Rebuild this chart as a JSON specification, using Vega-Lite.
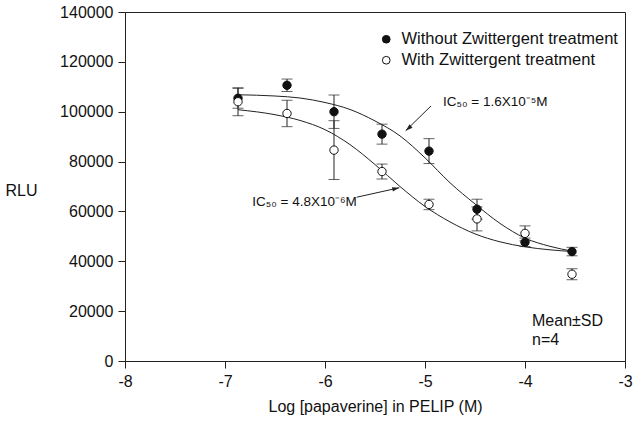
{
  "$schema": "https://vega.github.io/schema/vega-lite/v6.json",
  "width": 500,
  "height": 349,
  "autosize": {"type": "none"},
  "padding": {"left": 125, "top": 12, "right": 12, "bottom": 61},
  "background": "white",
  "config": {
    "font": "Liberation Sans",
    "view": {"stroke": "#222", "strokeWidth": 1},
    "axis": {
      "grid": false,
      "domainColor": "#222",
      "tickColor": "#222",
      "tickSize": 7,
      "labelFontSize": 16,
      "labelColor": "#111",
      "titleFontSize": 16,
      "titleFontWeight": "normal",
      "titleColor": "#111",
      "labelFlush": false
    }
  },
  "datasets": {
    "points": [
      {"series": "Without Zwittergent treatment", "logc": -6.87, "rlu": 105400, "lo": 101400, "hi": 109400},
      {"series": "Without Zwittergent treatment", "logc": -6.38, "rlu": 110600, "lo": 108100, "hi": 113100},
      {"series": "Without Zwittergent treatment", "logc": -5.91, "rlu": 100000, "lo": 93300, "hi": 106700},
      {"series": "Without Zwittergent treatment", "logc": -5.43, "rlu": 91000, "lo": 87000, "hi": 95000},
      {"series": "Without Zwittergent treatment", "logc": -4.96, "rlu": 84200, "lo": 79200, "hi": 89200},
      {"series": "Without Zwittergent treatment", "logc": -4.48, "rlu": 60900, "lo": 56900, "hi": 64900},
      {"series": "Without Zwittergent treatment", "logc": -4.0, "rlu": 47600, "lo": 45900, "hi": 49300},
      {"series": "Without Zwittergent treatment", "logc": -3.53, "rlu": 43900, "lo": 42200, "hi": 45600},
      {"series": "With Zwittergent treatment", "logc": -6.87, "rlu": 104000, "lo": 98400, "hi": 109600},
      {"series": "With Zwittergent treatment", "logc": -6.38, "rlu": 99300, "lo": 94000, "hi": 104600},
      {"series": "With Zwittergent treatment", "logc": -5.91, "rlu": 84600, "lo": 72800, "hi": 96400},
      {"series": "With Zwittergent treatment", "logc": -5.43, "rlu": 76000, "lo": 73000, "hi": 79000},
      {"series": "With Zwittergent treatment", "logc": -4.96, "rlu": 62800, "lo": 60700, "hi": 64900},
      {"series": "With Zwittergent treatment", "logc": -4.48, "rlu": 57000, "lo": 52200, "hi": 61800},
      {"series": "With Zwittergent treatment", "logc": -4.0, "rlu": 51200, "lo": 48200, "hi": 54200},
      {"series": "With Zwittergent treatment", "logc": -3.53, "rlu": 34800, "lo": 32600, "hi": 37000}
    ],
    "curves": [
      {"series": "Without", "logc": -6.87, "rlu": 106800},
      {"series": "Without", "logc": -6.5, "rlu": 106300},
      {"series": "Without", "logc": -6.25, "rlu": 105500},
      {"series": "Without", "logc": -6.0, "rlu": 103700},
      {"series": "Without", "logc": -5.75, "rlu": 100900},
      {"series": "Without", "logc": -5.5, "rlu": 96300},
      {"series": "Without", "logc": -5.25, "rlu": 90300},
      {"series": "Without", "logc": -5.0, "rlu": 81500},
      {"series": "Without", "logc": -4.75, "rlu": 71500},
      {"series": "Without", "logc": -4.5, "rlu": 63000},
      {"series": "Without", "logc": -4.25, "rlu": 55200},
      {"series": "Without", "logc": -4.0, "rlu": 49300},
      {"series": "Without", "logc": -3.75, "rlu": 46000},
      {"series": "Without", "logc": -3.52, "rlu": 44000},
      {"series": "With", "logc": -6.87, "rlu": 100800},
      {"series": "With", "logc": -6.5, "rlu": 98800},
      {"series": "With", "logc": -6.25, "rlu": 96500},
      {"series": "With", "logc": -6.0, "rlu": 92800},
      {"series": "With", "logc": -5.75, "rlu": 86800},
      {"series": "With", "logc": -5.5, "rlu": 78800},
      {"series": "With", "logc": -5.25, "rlu": 70000},
      {"series": "With", "logc": -5.0, "rlu": 62000},
      {"series": "With", "logc": -4.75, "rlu": 55800},
      {"series": "With", "logc": -4.5, "rlu": 51000},
      {"series": "With", "logc": -4.25, "rlu": 47800},
      {"series": "With", "logc": -4.0, "rlu": 45800},
      {"series": "With", "logc": -3.75, "rlu": 44600},
      {"series": "With", "logc": -3.52, "rlu": 43900}
    ],
    "arrows": [
      {"id": "a1", "x1": -4.94, "y1": 102300, "x2": -5.193, "y2": 92400},
      {"id": "a2", "x1": -5.683, "y1": 65700, "x2": -5.257, "y2": 69500}
    ],
    "notes": [
      {"label": "IC₅₀ = 1.6X10⁻⁵M", "logc": -4.82, "rlu": 103700, "size": 13.5},
      {"label": "IC₅₀ = 4.8X10⁻⁶M", "logc": -6.727, "rlu": 63900, "size": 13.5},
      {"label": "Mean±SD", "logc": -3.93, "rlu": 16000, "size": 16},
      {"label": "n=4", "logc": -3.93, "rlu": 8400, "size": 16}
    ]
  },
  "layer": [
    {
      "data": {"name": "curves"},
      "mark": {"type": "line", "color": "#222", "strokeWidth": 1, "interpolate": "monotone"},
      "encoding": {
        "x": {"field": "logc", "type": "quantitative", "scale": {"domain": [-8, -3]},
          "axis": {"values": [-8, -7, -6, -5, -4, -3], "labelExpr": "'' + datum.value", "title": "Log [papaverine] in PELIP (M)", "labelPadding": 5, "titlePadding": 9}},
        "y": {"field": "rlu", "type": "quantitative", "scale": {"domain": [0, 140000]},
          "axis": {"values": [0, 20000, 40000, 60000, 80000, 100000, 120000, 140000], "labelExpr": "'' + datum.value", "title": "RLU", "titleAngle": 0, "titleX": -104, "titleY": 178, "titleAlign": "center", "titleBaseline": "middle", "labelPadding": 5}},
        "detail": {"field": "series"}
      }
    },
    {
      "data": {"name": "arrows"},
      "mark": {"type": "rule", "color": "#222", "strokeWidth": 1},
      "encoding": {
        "x": {"field": "x1", "type": "quantitative"},
        "y": {"field": "y1", "type": "quantitative"},
        "x2": {"field": "x2"},
        "y2": {"field": "y2"}
      }
    },
    {
      "data": {"name": "arrows"},
      "transform": [{"filter": "datum.id == 'a1'"}],
      "mark": {"type": "point", "shape": "M0,0L-0.32,1L0.32,1Z", "size": 200, "filled": true, "color": "#222", "angle": 229, "opacity": 1},
      "encoding": {
        "x": {"field": "x2", "type": "quantitative"},
        "y": {"field": "y2", "type": "quantitative"}
      }
    },
    {
      "data": {"name": "arrows"},
      "transform": [{"filter": "datum.id == 'a2'"}],
      "mark": {"type": "point", "shape": "M0,0L-0.32,1L0.32,1Z", "size": 200, "filled": true, "color": "#222", "angle": 77, "opacity": 1},
      "encoding": {
        "x": {"field": "x2", "type": "quantitative"},
        "y": {"field": "y2", "type": "quantitative"}
      }
    },
    {
      "data": {"name": "points"},
      "mark": {"type": "rule", "color": "#222", "strokeWidth": 1},
      "encoding": {
        "x": {"field": "logc", "type": "quantitative"},
        "y": {"field": "lo", "type": "quantitative"},
        "y2": {"field": "hi"}
      }
    },
    {
      "data": {"name": "points"},
      "mark": {"type": "tick", "orient": "horizontal", "color": "#222", "size": 11, "thickness": 1},
      "encoding": {
        "x": {"field": "logc", "type": "quantitative"},
        "y": {"field": "lo", "type": "quantitative"}
      }
    },
    {
      "data": {"name": "points"},
      "mark": {"type": "tick", "orient": "horizontal", "color": "#222", "size": 11, "thickness": 1},
      "encoding": {
        "x": {"field": "logc", "type": "quantitative"},
        "y": {"field": "hi", "type": "quantitative"}
      }
    },
    {
      "data": {"name": "points"},
      "mark": {"type": "point", "shape": "circle", "size": 70, "stroke": "#111", "strokeWidth": 1, "opacity": 1, "fillOpacity": 1},
      "encoding": {
        "x": {"field": "logc", "type": "quantitative"},
        "y": {"field": "rlu", "type": "quantitative"},
        "fill": {"field": "series", "type": "nominal",
          "scale": {"domain": ["Without Zwittergent treatment", "With Zwittergent treatment"], "range": ["#111", "white"]},
          "legend": {"title": null, "orient": "none", "legendX": 253, "legendY": 19, "symbolType": "circle", "symbolSize": 60, "symbolStrokeColor": "#111", "symbolStrokeWidth": 1, "labelFontSize": 16.5, "labelColor": "#111", "labelOffset": 7, "labelLimit": 0, "rowPadding": 4, "padding": 0}
        }
      }
    },
    {
      "data": {"name": "notes"},
      "mark": {"type": "text", "align": "left", "baseline": "middle", "color": "#111"},
      "encoding": {
        "x": {"field": "logc", "type": "quantitative"},
        "y": {"field": "rlu", "type": "quantitative"},
        "text": {"field": "label"},
        "size": {"field": "size", "type": "quantitative", "scale": null}
      }
    }
  ]
}
